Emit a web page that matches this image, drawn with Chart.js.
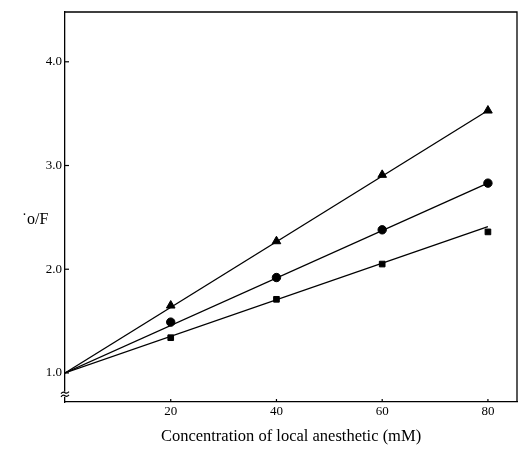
<!DOCTYPE html>
<html>
<head>
<meta charset="utf-8">
<script src="https://cdn.jsdelivr.net/npm/chart.js@4.4.0/dist/chart.umd.min.js"></script>
<style>
html,body{margin:0;padding:0;background:#fff;}
#wrap{width:518px;height:451px;}
</style>
</head>
<body>
<div id="wrap"><canvas id="c" width="518" height="451"></canvas></div>
<script>
// Data
const concentrations = [20, 40, 60, 80];
const triangleValues = [1.65, 2.27, 2.91, 3.53];
const circleValues   = [1.49, 1.92, 2.38, 2.83];
const squareValues   = [1.34, 1.71, 2.05, 2.36];
// fitted straight lines, all starting from (0, 1.0)
const fitStartX = 0, fitStartY = 1.0, fitEndX = 80;
const triangleFitEnd = 3.53;
const circleFitEnd = 2.83;
const squareFitEnd = 2.41;
const xTicks = [20, 40, 60, 80];
const yTicks = [1.0, 2.0, 3.0, 4.0];
const xTitle = 'Concentration of local anesthetic (mM)';
const yTitle = '\u02D9o/F';

const toPts = (xs, ys) => xs.map((x, i) => ({x: x, y: ys[i]}));
const fit = (end) => [{x: fitStartX, y: fitStartY}, {x: fitEndX, y: end}];

const serif = '"Liberation Serif","DejaVu Serif",serif';

const lineDs = (end) => ({
  type: 'line', data: fit(end), borderColor: '#000', borderWidth: 1.3,
  pointRadius: 0, fill: false, tension: 0
});
const markDs = (vals, style, r) => ({
  type: 'scatter', data: toPts(concentrations, vals), pointStyle: style,
  pointRadius: r, backgroundColor: '#000', borderColor: '#000', borderWidth: 1, showLine: false
});

const decor = {
  id: 'decor',
  afterDraw(chart) {
    const ctx = chart.ctx;
    const ys = chart.scales.y, xs = chart.scales.x;
    const ca = chart.chartArea;
    ctx.save();
    ctx.strokeStyle = '#000';
    ctx.lineWidth = 1.2;
    // inside tick marks
    yTicks.forEach(v => {
      const y = ys.getPixelForValue(v);
      ctx.beginPath(); ctx.moveTo(ca.left, y); ctx.lineTo(ca.left + 4, y); ctx.stroke();
    });
    xTicks.forEach(v => {
      const x = xs.getPixelForValue(v);
      ctx.beginPath(); ctx.moveTo(x, ca.bottom); ctx.lineTo(x, ca.bottom - 3); ctx.stroke();
    });
    // axis break on the y axis
    const b1 = ys.getPixelForValue(0.81), b2 = ys.getPixelForValue(0.78);
    ctx.fillStyle = '#fff';
    ctx.fillRect(ca.left - 2, b1 - 1, 4, b2 - b1 + 2);
    [b1, b2].forEach(y => {
      ctx.beginPath();
      ctx.moveTo(ca.left - 4, y + 1);
      ctx.quadraticCurveTo(ca.left - 2, y - 1.5, ca.left, y);
      ctx.quadraticCurveTo(ca.left + 2, y + 1.5, ca.left + 4, y - 1);
      ctx.stroke();
    });
    // y title, horizontal
    ctx.fillStyle = '#000';
    ctx.font = '16px ' + serif;
    ctx.textAlign = 'center';
    ctx.textBaseline = 'middle';
    ctx.fillText(yTitle, 35, ys.getPixelForValue(2.48));
    ctx.restore();
  }
};

new Chart(document.getElementById('c'), {
  data: {
    datasets: [
      lineDs(triangleFitEnd), lineDs(circleFitEnd), lineDs(squareFitEnd),
      markDs(triangleValues, 'triangle', 5),
      markDs(circleValues, 'circle', 4.2),
      markDs(squareValues, 'rect', 4)
    ]
  },
  options: {
    responsive: false,
    animation: false,
    layout: {autoPadding: false, padding: {left: 0, right: 1, top: 12, bottom: 0}},
    plugins: {legend: {display: false}, tooltip: {enabled: false}},
    scales: {
      x: {
        type: 'linear', min: 0, max: 85.5,
        afterBuildTicks: s => { s.ticks = xTicks.map(v => ({value: v})); },
        afterFit: s => { s.height = 49; s.paddingRight = 0; s.paddingLeft = 0; },
        border: {display: true, color: '#000', width: 1.3},
        grid: {display: false, drawTicks: false},
        ticks: {color: '#000', font: {family: serif, size: 13}, padding: 2,
                callback: v => String(v), maxRotation: 0},
        title: {display: true, text: xTitle, color: '#000',
                font: {family: serif, size: 16.5}, padding: {top: 0, bottom: 4}}
      },
      y: {
        type: 'linear', min: 0.72, max: 4.48,
        afterBuildTicks: s => { s.ticks = yTicks.map(v => ({value: v})); },
        afterFit: s => { s.width = 65; s.paddingTop = 0; s.paddingBottom = 0; },
        border: {display: true, color: '#000', width: 1.3},
        grid: {display: false, drawTicks: false},
        ticks: {color: '#000', font: {family: serif, size: 13}, padding: 3,
                callback: v => Number(v).toFixed(1)}
      }
    }
  },
  plugins: [decor, {
    id: 'frame',
    afterDatasetsDraw(chart) {
      const ca = chart.chartArea, ctx = chart.ctx;
      ctx.save();
      ctx.strokeStyle = '#000';
      ctx.lineWidth = 1.3;
      ctx.beginPath();
      ctx.moveTo(ca.left, ca.top);
      ctx.lineTo(ca.right, ca.top);
      ctx.lineTo(ca.right, ca.bottom);
      ctx.stroke();
      ctx.restore();
    }
  }]
});
</script>
</body>
</html>
